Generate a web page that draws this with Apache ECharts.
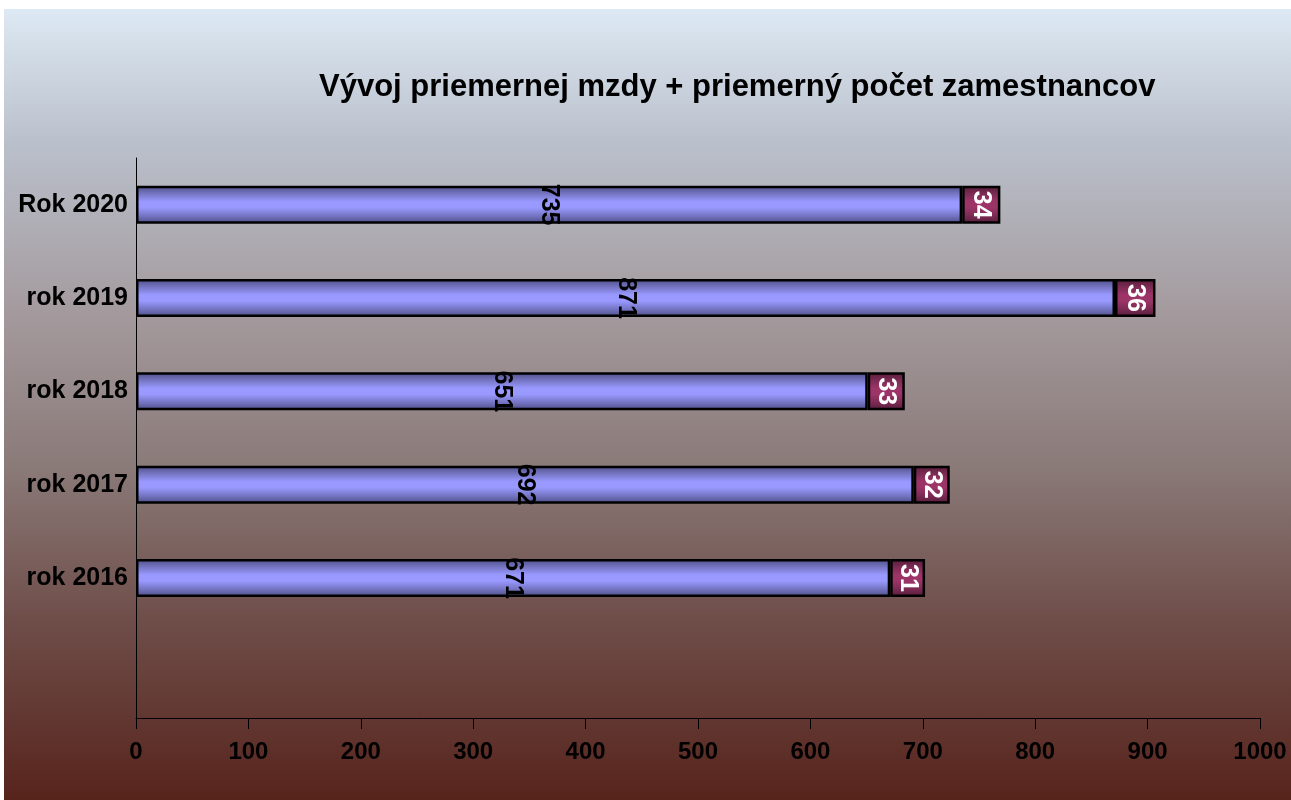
<!DOCTYPE html>
<html>
<head>
<meta charset="utf-8">
<script src="https://cdn.jsdelivr.net/npm/echarts@6/dist/echarts.min.js"></script>
<style>
  html, body { margin: 0; padding: 0; background: #ffffff; }
  #chart { position: absolute; left: 4px; top: 9px; width: 1287px; height: 791px; }
</style>
</head>
<body>
<div id="chart"></div>
<script>
// data
var years = ["", "rok 2016", "rok 2017", "rok 2018", "rok 2019", "Rok 2020"];
var wage = [null, 671, 692, 651, 871, 735];
var employees = [null, 31, 32, 33, 36, 34];
var xTicks = [0, 100, 200, 300, 400, 500, 600, 700, 800, 900, 1000];

var myChart = echarts.init(document.getElementById("chart"));

var font = "'Liberation Sans', Arial, sans-serif";

// stripe-like vertical gradient for bars
function stripes(dark, mid, light) {
  return new echarts.graphic.LinearGradient(0, 0, 0, 1, [
    { offset: 0, color: dark },
    { offset: 0.2, color: mid },
    { offset: 0.42, color: light },
    { offset: 0.58, color: light },
    { offset: 0.8, color: mid },
    { offset: 1, color: dark }
  ]);
}

var option = {
  backgroundColor: new echarts.graphic.LinearGradient(0, 0, 0, 1, [
    { offset: 0, color: "#dde9f4" },
    { offset: 0.17, color: "#bac0cb" },
    { offset: 0.4, color: "#a2979a" },
    { offset: 0.58, color: "#8a7a78" },
    { offset: 0.77, color: "#6f4e4a" },
    { offset: 1, color: "#57241c" }
  ]),
  animation: false,
  title: {
    text: "Vývoj priemernej mzdy + priemerný počet zamestnancov",
    left: 310,
    top: 58,
    textStyle: { fontFamily: font, fontSize: 31, fontWeight: "bold", color: "#000" }
  },
  grid: { left: 132, right: 31, top: 149, bottom: 82 },
  xAxis: {
    type: "value",
    min: 0,
    max: 1000,
    interval: 100,
    splitLine: { show: false },
    axisLine: { show: true, lineStyle: { color: "#000", width: 1 } },
    axisTick: { show: true, length: 11, lineStyle: { color: "#000" } },
    axisLabel: {
      margin: 22,
      fontFamily: font, fontSize: 24, fontWeight: "bold", color: "#000",
      formatter: function (v) { return xTicks.indexOf(v) >= 0 ? String(v) : ""; }
    }
  },
  yAxis: {
    type: "category",
    data: years,
    axisLine: { show: true, lineStyle: { color: "#000", width: 1 } },
    axisTick: { show: false },
    axisLabel: { margin: 8, fontFamily: font, fontSize: 25, fontWeight: "bold", color: "#000" }
  },
  series: [
    {
      name: "mzda",
      type: "bar",
      stack: "a",
      barWidth: 38,
      data: wage,
      itemStyle: { color: stripes("#4c4c84", "#7373c0", "#9999ff"), borderColor: "#000", borderWidth: 2.5 },
      label: {
        show: true,
        position: "inside",
        rotate: -90,
        fontFamily: font, fontSize: 25, fontWeight: "bold", color: "#000"
      }
    },
    {
      name: "zamestnanci",
      type: "bar",
      stack: "a",
      barWidth: 38,
      data: employees,
      itemStyle: { color: stripes("#551c39", "#7a2a52", "#9c3468"), borderColor: "#000", borderWidth: 2.5 },
      label: {
        show: true,
        position: "inside",
        rotate: -90,
        fontFamily: font, fontSize: 25, fontWeight: "bold", color: "#fff"
      }
    }
  ]
};

myChart.setOption(option);
</script>
</body>
</html>
